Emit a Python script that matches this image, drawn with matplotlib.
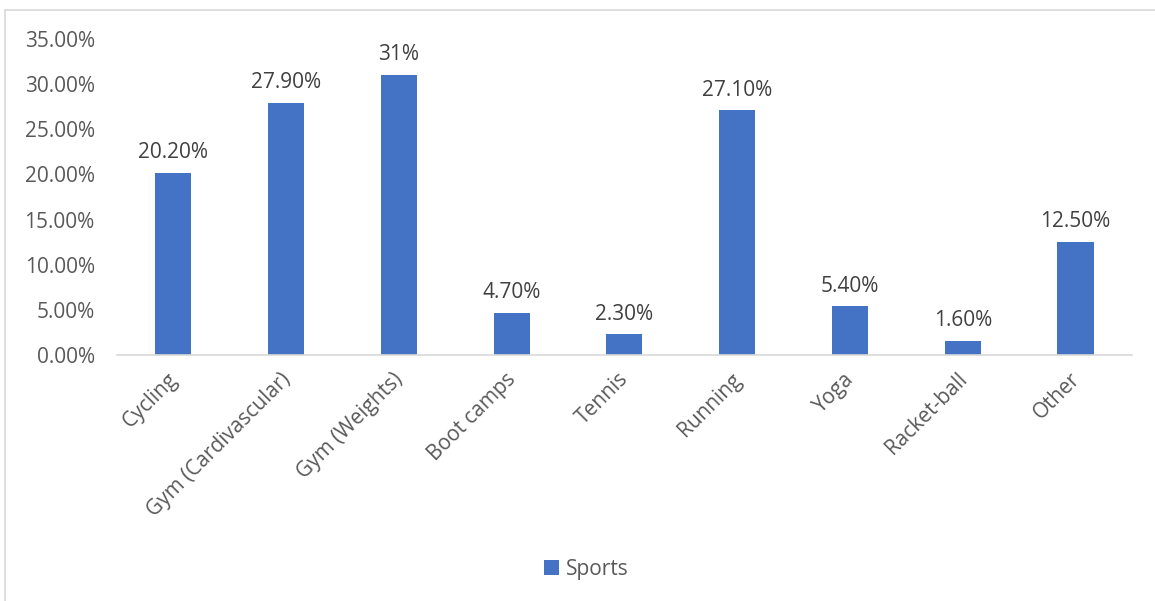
import matplotlib.pyplot as plt
from matplotlib.patches import Rectangle
from matplotlib.ticker import FuncFormatter

categories = ["Cycling", "Gym (Cardivascular)", "Gym (Weights)", "Boot camps",
              "Tennis", "Running", "Yoga", "Racket-ball", "Other"]
values = [0.202, 0.279, 0.31, 0.047, 0.023, 0.271, 0.054, 0.016, 0.125]
value_labels = ["20.20%", "27.90%", "31%", "4.70%", "2.30%", "27.10%",
                "5.40%", "1.60%", "12.50%"]

plt.rcParams["font.family"] = ["Open Sans", "DejaVu Sans"]
texto = "#595959"
tam = 15

fig = plt.figure(figsize=(11.55, 6.01), dpi=100)
ax = fig.add_axes([0.1013, 0.4093, 0.8787, 0.5258])

x = list(range(len(categories)))
barras = ax.bar(x, values, width=0.32, color="#4472C4", label="Sports")

for b, lab in zip(barras, value_labels):
    ax.annotate(lab, (b.get_x() + b.get_width() / 2, b.get_height()),
                xytext=(0, 7), textcoords="offset points",
                ha="center", va="bottom", fontsize=tam, color="#404040")

ax.set_xlim(-0.5, len(categories) - 0.5)
ax.set_ylim(0, 0.35)
ax.set_yticks([i * 0.05 for i in range(8)])
ax.yaxis.set_major_formatter(FuncFormatter(lambda v, p: f"{v * 100:.2f}%"))

# rótulos girados terminam um pouco à esquerda do centro da barra
ax.set_xticks([i - 0.055 for i in x])
ax.set_xticklabels(categories, rotation=45, ha="right", va="top",
                   rotation_mode="anchor")

for lado in ["top", "right", "left"]:
    ax.spines[lado].set_visible(False)
ax.spines["bottom"].set_color("#D9D9D9")
ax.spines["bottom"].set_linewidth(1.2)

ax.tick_params(axis="y", length=0, pad=16, labelsize=tam, labelcolor=texto)
ax.tick_params(axis="x", length=0, pad=10, labelsize=tam, labelcolor=texto)

fig.legend(loc="center", bbox_to_anchor=(0.508, 0.053), frameon=False,
           fontsize=tam, labelcolor=texto, handlelength=0.7, handleheight=0.7,
           handletextpad=0.35)

# moldura do gráfico
fig.patches.append(Rectangle((5 / 1155, -0.1), 1.2, 1 - 10 / 601 + 0.1,
                             transform=fig.transFigure, fill=False,
                             edgecolor="#D9D9D9", linewidth=1.2))

fig.savefig("out.png", dpi=100)
